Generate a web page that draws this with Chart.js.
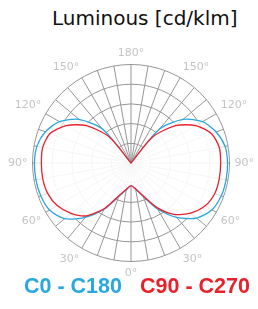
<!DOCTYPE html>
<html lang="en">
<head>
<meta charset="UTF-8">
<title>Luminous</title>
<script src="https://cdn.jsdelivr.net/npm/chart.js@4"></script>
<style>
    html, body { margin: 0; padding: 0; background: #fff; }
    body { width: 258px; height: 309px; position: relative; overflow: hidden; font-family: "DejaVu Sans", sans-serif; }
    #title { position: absolute; left: 52px; top: 6px; font-size: 20px; color: #111; white-space: nowrap; }
    #box { position: absolute; left: 0; top: 45px; width: 258px; height: 236px; }
    .leg { position: absolute; top: 275px; font-family: "Liberation Sans", Arial, sans-serif; font-size: 21.5px; line-height: 22px; font-weight: bold; white-space: nowrap; }
</style>
</head>
<body>
<div id="title">Luminous [cd/klm]</div>
<div id="box"><canvas id="polar"></canvas></div>
<div class="leg" style="left:24px;color:#29a8e0">C0 - C180</div>
<div class="leg" style="left:140px;color:#e8212b">C90 - C270</div>
<script>
// gamma angles, 0 = straight down, 180 = straight up
const gamma = [0, 10, 20, 30, 40, 50, 60, 70, 80, 90, 100, 110, 120, 130, 140, 150, 160, 170, 180];
// relative intensity, outer ring = 100
const c0   = [23, 27, 36, 54, 72, 87, 95, 97.5, 98, 98, 97, 92, 84, 69, 45, 0, 0, 0, 0];
const c180 = [23, 27.5, 36, 54, 72, 88, 95.5, 97.5, 98, 98, 97, 92.5, 84, 69, 45, 0, 0, 0, 0];
const c90  = [23, 26.5, 35, 52, 68, 79, 87, 90.5, 91, 91, 91, 87, 76, 59, 35, 0, 0, 0, 0];
const c270 = [23, 27, 35, 53, 70, 79.5, 86.5, 90, 91, 91, 91, 87.5, 76, 59, 35, 0, 0, 0, 0];
const ringMax = 100;
const ringStep = 20;

// left half goes 0 -> 180, right half comes back 170 -> 10
let labels = gamma.concat(gamma.slice(1, 18).reverse());
let blue = c180.concat(c0.slice(1, 18).reverse());
let red = c270.concat(c90.slice(1, 18).reverse());

let ctx = document.getElementById('polar').getContext('2d');
new Chart(ctx, {
    type: 'radar',
    data: {
        labels: labels,
        datasets: [
            {
                label: 'C90 - C270',
                data: red,
                borderColor: '#e8212b',
                backgroundColor: 'rgba(255,255,255,0.7)',
                fill: true,
                borderWidth: 1.3,
                pointRadius: 0,
                tension: 0.25,
            },
            {
                label: 'C0 - C180',
                data: blue,
                borderColor: '#29a8e0',
                backgroundColor: 'rgba(255,255,255,0.7)',
                fill: true,
                borderWidth: 1.3,
                pointRadius: 0,
                tension: 0.25,
            },
        ]
    },
    options: {
        responsive: true,
        maintainAspectRatio: false,
        animation: false,
        layout: {
            padding: { left: 8, right: 3, top: 0, bottom: 0 },
        },
        plugins: {
            legend: { display: false },
            title: { display: false },
            tooltip: { enabled: false },
        },
        scales: {
            r: {
                min: 0,
                max: ringMax,
                startAngle: 180,
                ticks: { display: false, stepSize: ringStep },
                grid: { circular: true, color: '#969696', lineWidth: 1 },
                angleLines: { color: '#969696', lineWidth: 1 },
                pointLabels: {
                    color: '#c4c4c4',
                    padding: 5,
                    font: { size: 11, family: 'DejaVu Sans' },
                    callback: (label) => (label % 30 === 0 ? label + '°' : ''),
                },
            },
        },
    },
});
</script>
</body>
</html>
